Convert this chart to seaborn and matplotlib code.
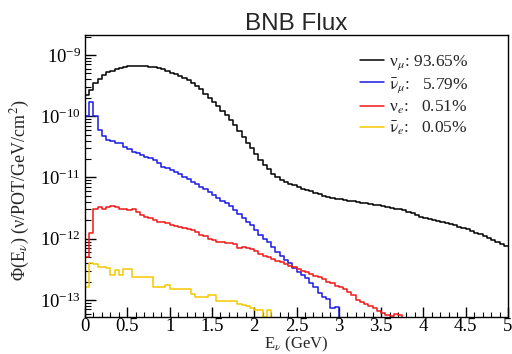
import numpy as np
import pandas as pd
import matplotlib
matplotlib.use("Agg")
import matplotlib.pyplot as plt
import seaborn as sns
from matplotlib.ticker import MultipleLocator, LogLocator, NullFormatter, FuncFormatter
from matplotlib.lines import Line2D

# ---- data (0.05 GeV bins from 0 to 5 GeV) ----
bin_edges = np.round(np.linspace(0.0, 5.0, 101), 3)

numu = [2.2e-10, 2.7e-10, 3.5e-10, 4.1e-10, 4.7e-10, 5.2e-10, 5.5e-10, 5.85e-10, 6.1e-10, 6.4e-10,
        6.6e-10, 6.7e-10, 6.7e-10, 6.65e-10, 6.6e-10, 6.45e-10, 6.3e-10, 6.1e-10, 5.8e-10, 5.4e-10,
        5.15e-10, 4.85e-10, 4.5e-10, 4.2e-10, 3.9e-10, 3.5e-10, 3.15e-10, 2.75e-10, 2.35e-10, 2.0e-10,
        1.7e-10, 1.45e-10, 1.22e-10, 1.05e-10, 8.7e-11, 7.2e-11, 5.7e-11, 4.6e-11, 3.7e-11, 3.0e-11,
        2.4e-11, 1.93e-11, 1.6e-11, 1.35e-11, 1.15e-11, 1.0e-11, 9.0e-12, 8.3e-12, 7.8e-12, 7.4e-12,
        7.0e-12, 6.6e-12, 6.3e-12, 6.0e-12, 5.6e-12, 5.3e-12, 5.0e-12, 4.8e-12, 4.6e-12, 4.5e-12,
        4.4e-12, 4.3e-12, 4.2e-12, 4.1e-12, 4.0e-12, 3.9e-12, 3.8e-12, 3.7e-12, 3.6e-12, 3.5e-12,
        3.4e-12, 3.3e-12, 3.2e-12, 3.1e-12, 3.0e-12, 2.9e-12, 2.75e-12, 2.6e-12, 2.45e-12, 2.3e-12,
        2.2e-12, 2.1e-12, 2.02e-12, 1.95e-12, 1.88e-12, 1.8e-12, 1.72e-12, 1.65e-12, 1.58e-12, 1.5e-12,
        1.42e-12, 1.34e-12, 1.26e-12, 1.18e-12, 1.1e-12, 1.03e-12, 9.6e-13, 8.8e-13, 8.1e-13, 7.5e-13]

numubar = [1.0e-10, 1.7e-10, 1.0e-10, 6.0e-11, 4.7e-11, 4.1e-11, 3.9e-11, 3.7e-11, 3.6e-11, 3.2e-11,
           2.9e-11, 2.65e-11, 2.5e-11, 2.35e-11, 2.2e-11, 2.05e-11, 1.9e-11, 1.7e-11, 1.5e-11, 1.42e-11,
           1.33e-11, 1.25e-11, 1.14e-11, 1.03e-11, 9.3e-12, 8.5e-12, 7.8e-12, 7.1e-12, 6.4e-12, 5.9e-12,
           5.2e-12, 4.7e-12, 4.2e-12, 3.8e-12, 3.4e-12, 2.95e-12, 2.55e-12, 2.2e-12, 1.9e-12, 1.7e-12,
           1.38e-12, 1.15e-12, 1.0e-12, 8.7e-13, 7.4e-13, 6.1e-13, 5.2e-13, 4.5e-13, 4.0e-13, 3.3e-13,
           2.9e-13, 2.6e-13, 2.25e-13, 1.9e-13, 1.6e-13, 1.3e-13, 1.1e-13, 1.05e-13, 7.3e-14, 7.6e-14] + [0.0] * 40

nue = [5.1e-13, 1.23e-12, 3.0e-12, 3.3e-12, 3.1e-12, 3.3e-12, 3.4e-12, 3.3e-12, 3.1e-12, 3.0e-12,
       2.9e-12, 3.0e-12, 2.7e-12, 2.45e-12, 2.3e-12, 2.2e-12, 2.05e-12, 1.9e-12, 1.85e-12, 1.8e-12,
       1.7e-12, 1.6e-12, 1.55e-12, 1.5e-12, 1.45e-12, 1.37e-12, 1.27e-12, 1.15e-12, 1.1e-12, 1.0e-12,
       9.6e-13, 9.0e-13, 9.0e-13, 8.5e-13, 8.5e-13, 8.2e-13, 7.0e-13, 7.4e-13, 7.0e-13, 6.8e-13,
       6.3e-13, 5.6e-13, 5.2e-13, 5.0e-13, 4.6e-13, 4.3e-13, 4.1e-13, 3.9e-13, 3.6e-13, 3.5e-13,
       3.2e-13, 3.0e-13, 2.85e-13, 2.7e-13, 2.5e-13, 2.35e-13, 2.2e-13, 2.0e-13, 1.9e-13, 1.7e-13,
       1.6e-13, 1.5e-13, 1.35e-13, 1.2e-13, 1.0e-13, 9.4e-14, 8.5e-14, 7.9e-14, 7.3e-14, 6.6e-14,
       6.2e-14, 5.7e-14, 5.4e-14, 5.8e-14, 5.6e-14] + [0.0] * 25

nuebar = [1.6e-13, 4.0e-13, 3.9e-13, 3.5e-13, 3.5e-13, 3.3e-13, 2.6e-13, 3.1e-13, 2.6e-13, 3.2e-13,
          3.2e-13, 2.4e-13, 2.4e-13, 2.4e-13, 2.4e-13, 2.4e-13, 1.6e-13, 1.6e-13, 1.6e-13, 1.75e-13,
          1.5e-13, 1.5e-13, 1.5e-13, 1.5e-13, 1.5e-13, 1.25e-13, 1.1e-13, 1.1e-13, 1.1e-13, 1.2e-13,
          1.2e-13, 9.5e-14, 9.5e-14, 9.5e-14, 9.5e-14, 9.5e-14, 8.5e-14, 8.3e-14, 8.0e-14, 7.5e-14,
          6.9e-14, 6.9e-14, 5.3e-14, 6.9e-14] + [0.0] * 56

series_labels = [r"ν$_{\mu}$: 93.65%", r"$\bar{\mathrm{\nu}}_{\mu}$:   5.79%",
                 r"ν$_{e}$:   0.51%", r"$\bar{\mathrm{\nu}}_{e}$:   0.05%"]
series_values = [numu, numubar, nue, nuebar]
series_colors = ["#000000", "#1a1ae6", "#f01818", "#f5c800"]

# ---- style ----
sns.set_theme(style="ticks")
plt.rcParams["font.family"] = ["Liberation Serif", "DejaVu Serif"]
plt.rcParams["mathtext.fontset"] = "stix"
plt.rcParams["axes.linewidth"] = 1.0
plt.rcParams["axes.edgecolor"] = "black"

fig = plt.figure(figsize=(5.12, 3.54), dpi=100)
ax = fig.add_axes([85 / 512, 1 - 317 / 354, (508 - 85) / 512, (317 - 35) / 354])
ax.set_yscale("log")

for vals, col in zip(series_values, series_colors):
    df = pd.DataFrame({"E": bin_edges, "flux": list(vals) + [vals[-1]]})
    sns.lineplot(data=df, x="E", y="flux", estimator=None, sort=False,
                 drawstyle="steps-post", color=col, linewidth=1.1, ax=ax)

ax.set_xlim(0, 5)
ax.set_ylim(5.27e-14, 2.12e-9)

ax.xaxis.set_major_locator(MultipleLocator(0.5))
ax.xaxis.set_minor_locator(MultipleLocator(0.1))
ax.xaxis.set_major_formatter(FuncFormatter(lambda v, p: f"{v:g}"))
ax.yaxis.set_major_locator(LogLocator(base=10, numticks=20))
ax.yaxis.set_minor_locator(LogLocator(base=10, subs=np.arange(2, 10), numticks=20))
ax.yaxis.set_minor_formatter(NullFormatter())

ax.tick_params(axis="both", which="both", direction="in", top=False, right=False,
               labelsize=13.5, colors="black")
ax.tick_params(axis="y", which="major", length=8, width=1.0, pad=3)
ax.tick_params(axis="y", which="minor", length=4, width=0.8)
ax.tick_params(axis="x", which="major", length=7, width=1.0, pad=1)
ax.tick_params(axis="x", which="minor", length=3.5, width=0.8)

for s in ax.spines.values():
    s.set_visible(True)
    s.set_color("black")

ax.set_xlabel(r"E$_{\nu}$ (GeV)", fontsize=12)
ax.xaxis.set_label_coords(0.5, -0.062)
ax.xaxis.label.set_va("top")
ax.set_ylabel(r"Φ(E$_{\nu}$) (ν/POT/GeV/cm$^{2}$)", fontsize=13)
ax.yaxis.set_label_coords(-0.125, 0.45)
ax.set_title("BNB Flux", fontsize=17.5, family=["Liberation Sans", "DejaVu Sans"], pad=3)

handles = [Line2D([], [], color=c, lw=1.1) for c in series_colors]
ax.legend(handles, series_labels, loc="upper left", bbox_to_anchor=(351 / 512, 1 - 45 / 354),
          bbox_transform=fig.transFigure, frameon=False, fontsize=12.5,
          handlelength=1.4, handletextpad=0.3, labelspacing=0.22, borderpad=0.0)

fig.savefig("out.png", dpi=100)
